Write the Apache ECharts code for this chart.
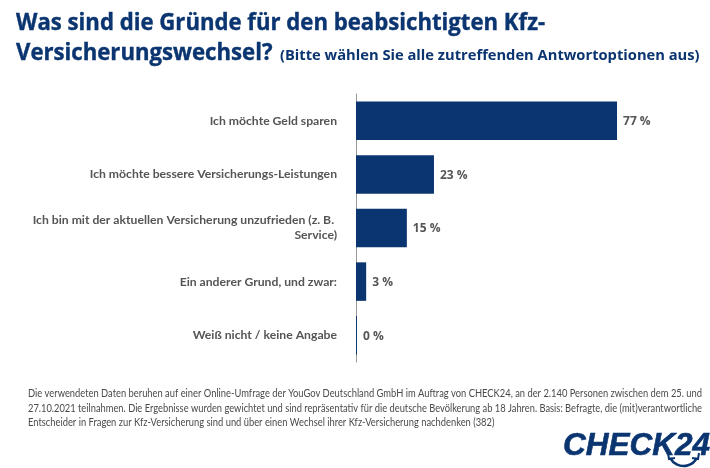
<!DOCTYPE html>
<html>
<head>
<meta charset="UTF-8"/>
<title>Kfz-Versicherungswechsel</title>
<style>
  html, body { margin: 0; padding: 0; background: #fff; }
  #chart { width: 710px; height: 468px; }
</style>
</head>
<body>
<div id="chart"></div>
<script src="https://cdn.jsdelivr.net/npm/echarts@6/dist/echarts.min.js"></script>
<script>
    var categories = [
        'Ich möchte Geld sparen',
        'Ich möchte bessere Versicherungs-Leistungen',
        'Ich bin mit der aktuellen Versicherung unzufrieden (z. B. Service)',
        'Ein anderer Grund, und zwar:',
        'Weiß nicht / keine Angabe'
    ];
    var values = [77, 23, 15, 3, 0];
    var titleLine1 = 'Was sind die Gründe für den beabsichtigten Kfz-';
    var titleLine2 = 'Versicherungswechsel?';
    var titleNote = '(Bitte wählen Sie alle zutreffenden Antwortoptionen aus)';
    var footnotes = [
        'Die verwendeten Daten beruhen auf einer Online-Umfrage der YouGov Deutschland GmbH im Auftrag von CHECK24, an der 2.140 Personen zwischen dem 25. und',
        '27.10.2021 teilnahmen. Die Ergebnisse wurden gewichtet und sind repräsentativ für die deutsche Bevölkerung ab 18 Jahren. Basis: Befragte, die (mit)verantwortliche',
        'Entscheider in Fragen zur Kfz-Versicherung sind und über einen Wechsel ihrer Kfz-Versicherung nachdenken (382)'
    ];

    var navy = '#0b3570';
    var chart = echarts.init(document.getElementById('chart'), null, { renderer: 'canvas' });

    // the first two footnote lines run the full width in the original
    var footFont = '10.6px Lato';
    var measure = document.createElement('canvas').getContext('2d');
    measure.font = footFont;
    var footScale = function (line) {
        return 674 / measure.measureText(line).width;
    };
    var footnoteText = footnotes.map(function (line, i) {
        return {
            type: 'text', x: 28, y: 388.3 + i * 14.3,
            scaleX: footScale(footnotes[i === 1 ? 1 : 0]),
            style: { text: line, fill: '#4a4a4a', font: footFont }
        };
    });

    chart.setOption({
        animation: false,
        grid: { left: 356, right: 15, top: 94, height: 268 },
        xAxis: { type: 'value', min: 0, max: 100, show: false },
        yAxis: {
            type: 'category',
            inverse: true,
            data: categories,
            axisTick: { show: false },
            axisLine: { lineStyle: { color: '#9a9a9a', width: 1 } },
            axisLabel: {
                margin: 19,
                width: 312,
                overflow: 'break',
                align: 'right',
                lineHeight: 15,
                color: '#555',
                fontFamily: 'Lato',
                fontWeight: 'bold',
                fontSize: 12.2
            }
        },
        series: [{
            type: 'bar',
            data: values,
            barWidth: 38.5,
            barMinHeight: 1,
            itemStyle: { color: navy },
            label: {
                show: true,
                position: 'right',
                distance: 6,
                offset: [0, 1],
                formatter: '{c} %',
                color: '#555',
                fontFamily: 'Open Sans',
                fontWeight: 'bold',
                fontSize: 12
            }
        }],
        graphic: footnoteText.concat([
            {
                type: 'text', x: 16, y: 11.5, scaleX: 0.923,
                style: { text: titleLine1, fill: navy, stroke: navy, lineWidth: 0.4, font: 'bold 24px "Open Sans"' }
            },
            {
                type: 'text', x: 16, y: 41.5, scaleX: 0.923,
                style: { text: titleLine2, fill: navy, stroke: navy, lineWidth: 0.4, font: 'bold 24px "Open Sans"' }
            },
            {
                type: 'text', x: 280, y: 48.5, scaleX: 0.98,
                style: { text: titleNote, fill: navy, font: 'bold 15px "Open Sans"' }
            },
            // logo
            {
                type: 'text', x: 563, y: 430,
                style: { text: 'CHECK24', fill: navy, stroke: navy, lineWidth: 0.6, font: 'italic bold 31.5px "Liberation Sans"' }
            },
            {
                type: 'arc', silent: true,
                shape: { cx: 683.5, cy: 451, r: 15, startAngle: Math.PI * 0.15, endAngle: Math.PI * 0.85 },
                style: { stroke: navy, lineWidth: 2.5, fill: null }
            },
            {
                type: 'polyline', silent: true,
                shape: { points: [[668, 453], [669, 459], [675, 458]] },
                style: { stroke: navy, lineWidth: 2, fill: null }
            },
            {
                type: 'polyline', silent: true,
                shape: { points: [[699, 453], [698, 459], [692, 458]] },
                style: { stroke: navy, lineWidth: 2, fill: null }
            }
        ])
    });
</script>
</body>
</html>
